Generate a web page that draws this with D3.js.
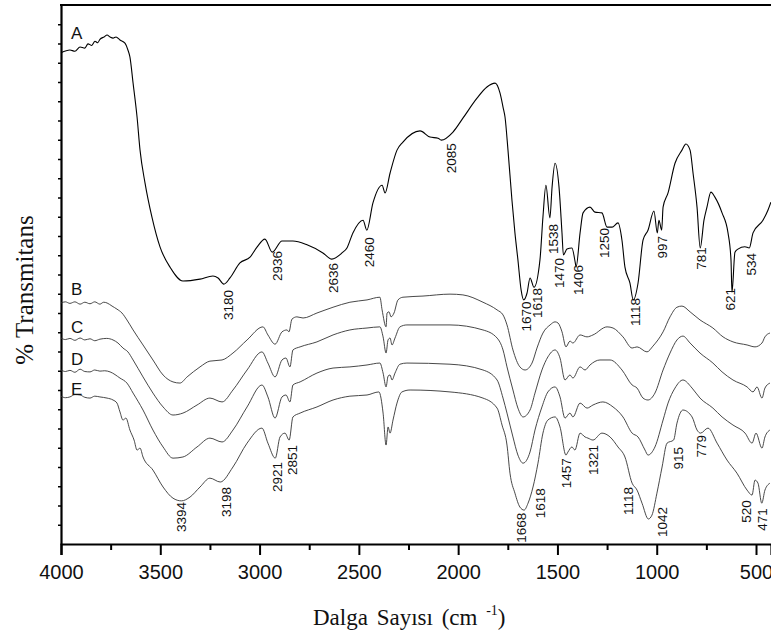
<!DOCTYPE html>
<html>
<head>
<meta charset="utf-8">
<script src="https://cdn.jsdelivr.net/npm/d3@7"></script>
<style>
  body { margin: 0; background: #fff; }
  .tick text { font-family: "Liberation Sans", Arial, sans-serif; }
  .peak { font-family: "Liberation Sans", Arial, sans-serif; font-size: 13.5px; fill: #111; }
  .letter { font-family: "Liberation Sans", Arial, sans-serif; font-size: 17px; fill: #111; }
  .title { font-family: "Liberation Serif", "Times New Roman", serif; fill: #111; }
</style>
</head>
<body>
<svg id="chart" width="771" height="639"></svg>
<script>
// spectra, [wavenumber cm-1, %T]
const specA = [
  [4000,127.6],[3955,128.3],[3930,128.0],[3904,129.1],[3880,128.8],[3864,129.9],[3845,129.5],[3829,130.6],[3815,130.2],
  [3804,131.1],[3783,131.7],[3768,132.2],[3753,131.7],[3738,131.4],[3723,131.7],[3703,130.9],[3678,130.1],
  [3663,128.3],[3653,126.5],[3637,119.7],[3617,110.9],[3602,102.3],[3577,93.8],[3542,84.9],[3501,77.1],
  [3451,71.9],[3386,68.3],[3300,68.8],[3235,69.6],[3209,69.1],[3180,67.5],[3149,69.1],[3099,73.0],
  [3048,74.5],[3013,77.1],[2973,79.2],[2936,75.8],[2887,78.7],[2832,78.7],[2761,77.7],[2681,75.6],
  [2636,74.0],[2585,75.6],[2560,76.9],[2530,80.8],[2479,84.1],[2460,81.5],[2429,88.6],[2383,93.2],
  [2368,91.2],[2343,96.3],[2308,102.3],[2278,104.4],[2192,107.3],[2142,105.7],[2101,105.4],[2085,104.9],
  [2026,107.0],[1976,110.6],[1905,115.8],[1855,118.7],[1814,119.7],[1789,117.1],[1774,113.5],[1764,110.9],
  [1749,102.3],[1729,89.3],[1714,80.8],[1699,73.8],[1683,66.0],[1670,63.4],[1653,65.2],[1638,69.1],
  [1618,66.7],[1588,73.8],[1573,84.9],[1558,93.2],[1538,84.7],[1527,92.7],[1512,98.9],[1492,92.7],
  [1477,80.8],[1470,75.1],[1452,76.6],[1427,76.9],[1410,73.0],[1406,71.9],[1386,80.8],[1371,86.0],
  [1336,87.5],[1311,86.2],[1276,86.0],[1250,82.3],[1225,82.3],[1195,83.4],[1175,78.9],[1160,71.9],
  [1135,67.8],[1118,63.4],[1094,67.8],[1069,78.9],[1044,81.5],[1014,86.5],[997,80.8],[989,84.1],
  [975,81.5],[968,87.5],[943,91.2],[908,98.9],[873,102.3],[853,103.9],[832,102.3],[817,96.3],
  [797,87.5],[781,76.9],[762,84.1],[747,87.5],[727,91.4],[707,90.1],[671,86.0],[641,80.8],
  [626,73.8],[621,65.4],[606,75.8],[591,76.6],[556,77.2],[534,76.9],[515,80.8],[465,84.1],[440,86.7],[425,88.8]
];
const specB = [
  [4000,62.6],[3978,62.9],[3955,62.5],[3930,62.9],[3904,62.3],[3880,62.8],[3854,62.4],[3830,62.9],
  [3804,62.3],[3785,62.8],[3768,62.6],[3743,61.8],[3718,61.0],
  [3693,60.0],[3668,58.2],[3637,55.6],[3587,51.7],[3537,47.8],[3486,43.9],[3436,42.1],[3401,41.8],
  [3365,43.4],[3300,46.0],[3250,47.5],[3189,47.8],[3134,49.6],[3063,53.0],[2983,56.4],[2958,54.3],
  [2922,51.9],[2887,55.1],[2862,55.6],[2852,55.1],[2837,58.4],[2812,59.0],[2781,58.7],[2711,60.0],
  [2630,61.5],[2545,62.8],[2459,63.4],[2394,64.1],[2383,60.8],[2363,56.4],[2358,60.0],[2348,60.3],
  [2338,59.0],[2323,60.0],[2303,63.4],[2278,64.1],[2177,64.4],[2041,64.9],[1976,64.7],[1875,62.8],
  [1804,60.8],[1774,59.5],[1754,56.9],[1724,50.4],[1689,46.0],[1663,45.2],[1628,47.0],[1603,50.9],
  [1573,54.8],[1537,56.9],[1512,57.7],[1497,57.4],[1477,55.1],[1457,51.2],[1437,52.7],[1422,52.2],
  [1386,54.3],[1351,53.8],[1321,54.3],[1250,56.4],[1220,56.1],[1170,53.8],[1124,50.9],[1099,51.2],
  [1049,49.9],[1019,51.4],[968,55.1],[933,59.0],[898,61.5],[873,61.8],[832,60.3],[782,58.2],
  [717,56.1],[666,53.8],[616,52.5],[545,51.7],[505,51.2],[470,52.2],[455,53.8],[430,54.8]
];
const specC = [
  [4000,53.5],[3978,53.1],[3955,53.4],[3930,52.9],[3904,53.5],[3880,53.0],[3854,53.3],[3830,52.8],
  [3804,53.2],[3770,53.4],[3738,53.0],[3713,52.2],[3688,50.9],
  [3663,49.9],[3637,47.8],[3587,43.4],[3537,39.2],[3486,35.6],[3436,33.5],[3386,34.0],[3315,36.1],
  [3250,37.9],[3189,36.9],[3134,40.0],[3063,45.2],[2988,49.9],[2958,47.0],[2922,43.4],[2887,47.8],
  [2867,48.3],[2847,46.0],[2832,50.4],[2796,51.2],[2711,52.5],[2630,54.3],[2545,55.6],[2459,56.1],
  [2394,56.4],[2378,53.8],[2363,49.6],[2353,53.0],[2343,53.5],[2333,51.7],[2318,53.5],[2293,56.4],
  [2258,56.9],[2041,56.9],[1875,55.6],[1804,53.5],[1774,50.4],[1754,46.0],[1724,40.0],[1699,35.3],
  [1673,33.0],[1638,34.8],[1613,39.2],[1578,45.2],[1548,48.6],[1512,50.4],[1487,48.3],[1462,42.6],
  [1437,43.9],[1422,43.1],[1386,46.0],[1361,45.2],[1336,46.5],[1286,47.8],[1235,47.8],[1175,45.2],
  [1124,41.3],[1099,40.5],[1069,37.9],[1044,37.4],[1009,39.2],[968,45.2],[933,49.6],[898,53.0],
  [868,54.0],[832,52.2],[782,49.6],[717,47.0],[671,44.7],[616,42.6],[545,40.8],[515,39.5],
  [495,40.8],[470,37.9],[455,40.5],[430,41.8]
];
const specD = [
  [4000,45.2],[3978,44.8],[3955,45.1],[3930,44.6],[3904,45.4],[3880,44.8],[3854,44.7],[3830,45.2],
  [3804,44.9],[3780,45.0],[3753,44.7],[3703,43.1],[3668,41.8],
  [3637,39.2],[3587,34.8],[3537,29.6],[3486,25.2],[3436,22.3],[3386,22.6],[3315,25.2],[3250,27.5],
  [3189,26.5],[3134,29.6],[3063,35.6],[2988,41.3],[2958,38.2],[2922,32.7],[2887,38.2],[2867,38.7],
  [2847,36.9],[2832,41.3],[2796,42.1],[2711,44.4],[2630,45.7],[2545,46.0],[2459,46.5],[2394,47.0],
  [2378,44.4],[2363,40.8],[2353,43.6],[2343,43.9],[2333,42.6],[2318,44.4],[2293,46.7],[2258,47.0],
  [2041,46.7],[1875,45.2],[1804,42.6],[1774,37.9],[1754,34.0],[1724,27.8],[1699,23.1],[1673,21.0],
  [1638,23.9],[1613,29.6],[1578,35.6],[1548,39.5],[1512,40.8],[1487,38.2],[1462,32.7],[1437,34.0],
  [1422,33.0],[1386,36.6],[1351,35.3],[1321,36.1],[1271,36.9],[1220,35.6],[1170,33.0],[1124,28.8],
  [1094,27.8],[1059,24.4],[1044,23.1],[1009,25.2],[968,32.2],[943,36.6],[908,40.5],[868,42.6],
  [822,40.5],[782,37.9],[717,35.3],[671,33.0],[616,30.9],[555,28.8],[520,26.2],[500,28.8],
  [470,24.9],[455,27.8],[430,29.6]
];
const specE = [
  [4000,38.4],[3978,38.0],[3955,38.2],[3930,38.8],[3904,38.7],[3880,38.1],[3854,37.9],[3830,38.4],
  [3804,38.2],[3768,37.9],[3738,37.4],[3718,36.6],
  [3703,34.3],[3688,32.2],[3673,32.7],[3653,29.6],[3632,27.0],[3617,24.4],[3602,24.9],[3587,22.6],
  [3537,19.2],[3486,14.8],[3436,11.9],[3394,11.2],[3350,12.2],[3300,14.8],[3250,17.1],[3198,16.1],
  [3134,20.0],[3063,26.2],[2988,30.1],[2958,26.2],[2921,22.3],[2897,27.8],[2872,28.8],[2851,27.0],
  [2832,33.0],[2796,34.0],[2711,35.6],[2630,37.4],[2545,38.4],[2459,38.7],[2399,39.5],[2378,34.0],
  [2363,25.7],[2353,30.4],[2343,28.8],[2328,32.2],[2308,36.6],[2283,39.5],[2242,40.0],[2041,39.5],
  [1875,37.9],[1804,35.3],[1779,30.9],[1754,25.7],[1739,18.4],[1714,13.2],[1689,9.6],[1668,8.8],
  [1648,10.6],[1623,14.8],[1598,21.0],[1573,28.8],[1548,32.2],[1512,33.0],[1487,30.4],[1457,23.1],
  [1447,23.9],[1427,25.2],[1412,24.4],[1386,28.8],[1361,27.8],[1346,27.5],[1321,27.0],[1276,28.8],
  [1235,27.8],[1195,25.2],[1160,22.6],[1124,15.8],[1099,14.0],[1074,10.6],[1042,6.5],[1024,7.5],
  [999,13.2],[973,20.0],[948,26.2],[915,27.0],[898,31.4],[868,34.8],[822,33.0],[797,29.6],
  [779,28.8],[742,30.1],[696,26.2],[646,21.8],[596,18.4],[545,14.0],[520,12.7],[505,16.6],
  [490,15.8],[471,10.6],[455,14.0],[430,15.8]
];

// peak labels: text, label centre (cm-1), label top (%T)
const peaksA = [
  ["3180",3154,66.0],["2936",2912,76.1],["2636",2630,73.0],["2460",2444,79.7],["2085",2031,104.1],
  ["1670",1658,63.0],["1618",1598,66.5],["1538",1522,83.1],["1470",1492,74.3],["1406",1396,72.5],
  ["1250",1265,82.1],["1118",1109,63.9],["997",973,80.0],["781",777,77.1],["621",626,66.5],["534",525,75.6]
];
const peaksE = [
  ["3394",3391,10.9],["3198",3169,14.8],["2921",2912,21.3],["2851",2832,25.7],["1668",1683,8.1],
  ["1618",1583,14.5],["1457",1452,22.3],["1321",1316,25.7],["1118",1140,14.8],["1042",973,9.6],
  ["915",888,25.2],["779",777,28.3],["520",550,11.4],["471",465,9.3]
];

const seriesNames = ["A", "B", "C", "D", "E"];
const seriesTops = [131.2, 64.7, 54.8, 46.5, 38.7];
const majorTicks = [4000, 3500, 3000, 2500, 2000, 1500, 1000, 500];
const minorTicks = [3750, 3250, 2750, 2250, 1750, 1250, 750];

const svg = d3.select('#chart');
const plotLeft = 61, plotRight = 771, plotTop = 5, plotBottom = 544;

const x = d3.scaleLinear().domain([4000, 424.5]).range([plotLeft, plotRight]);
const y = d3.scaleLinear().domain([0, 140]).range([plotBottom, plotTop]);

const line = d3.line()
  .x(d => x(d[0]))
  .y(d => y(d[1]))
  .curve(d3.curveMonotoneX);

// axes
const xAxis = svg.append('g')
  .attr('transform', `translate(0,${plotBottom})`)
  .call(d3.axisBottom(x).tickValues(majorTicks).tickSize(11).tickPadding(10).tickFormat(d3.format('d')));
xAxis.select('.domain').attr('stroke-width', 2.2);
xAxis.selectAll('.tick line').attr('stroke-width', 2);
xAxis.selectAll('.tick text').attr('font-size', 20).attr('fill', '#111');

const xMinor = svg.append('g')
  .attr('transform', `translate(0,${plotBottom})`)
  .call(d3.axisBottom(x).tickValues(minorTicks).tickSize(6).tickFormat(''));
xMinor.select('.domain').remove();
xMinor.selectAll('.tick line').attr('stroke-width', 2);

const yAxis = svg.append('g')
  .attr('transform', `translate(${plotLeft},0)`)
  .call(d3.axisLeft(y).tickValues(d3.range(5, 140, 5)).tickSize(3).tickSizeOuter(0).tickFormat(''));
yAxis.select('.domain').attr('stroke-width', 2.2);
yAxis.selectAll('.tick line').attr('stroke-width', 1.5);

svg.append('line')
  .attr('x1', plotLeft - 1).attr('x2', plotRight)
  .attr('y1', plotTop).attr('y2', plotTop)
  .attr('stroke', '#000').attr('stroke-width', 2.2);

// spectra
const specs = [specA, specB, specC, specD, specE];
svg.append('g').selectAll('path')
  .data(specs)
  .join('path')
  .attr('d', line)
  .attr('fill', 'none')
  .attr('stroke', (d, i) => i === 0 ? '#000' : '#333')
  .attr('stroke-width', (d, i) => i === 0 ? 1.1 : 0.9)
  .attr('stroke-linejoin', 'round');

// series letters
svg.append('g').selectAll('text')
  .data(seriesNames)
  .join('text')
  .attr('class', 'letter')
  .attr('x', x(3950))
  .attr('y', (d, i) => y(seriesTops[i]))
  .text(d => d);

// peak labels
const peakLabels = peaksA.concat(peaksE);
svg.append('g').selectAll('text')
  .data(peakLabels)
  .join('text')
  .attr('class', 'peak')
  .attr('text-anchor', 'end')
  .attr('dominant-baseline', 'central')
  .attr('transform', d => `translate(${x(d[1])},${y(d[2])}) rotate(-90)`)
  .text(d => d[0]);

// axis titles
svg.append('text')
  .attr('class', 'title')
  .attr('font-size', 25)
  .attr('text-anchor', 'middle')
  .attr('transform', 'translate(33,290) rotate(-90)')
  .text('% Transmitans');

const xt = svg.append('text')
  .attr('class', 'title')
  .attr('font-size', 23)
  .attr('x', 313)
  .attr('y', 625)
  .attr('word-spacing', 3);
xt.append('tspan').text('Dalga Sayısı (cm ');
xt.append('tspan').attr('font-size', 14).attr('dy', -10).text('-1');
xt.append('tspan').attr('dy', 10).text(')');
</script>
</body>
</html>
